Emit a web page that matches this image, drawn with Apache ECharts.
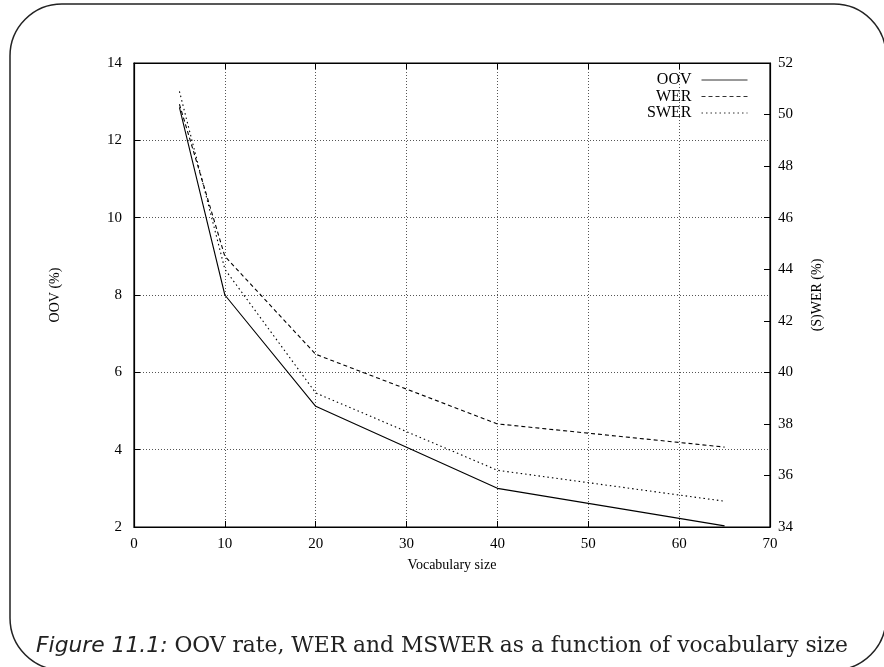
<!DOCTYPE html>
<html>
<head>
<meta charset="utf-8">
<script src="https://cdn.jsdelivr.net/npm/echarts@6/dist/echarts.min.js"></script>
<style>html,body{margin:0;padding:0;background:#fff;}#c{width:884px;height:667px;}</style>
</head>
<body>
<div id="c"></div>
<script>
var vocabSizes = [5, 10, 20, 40, 65];
var oovValues = [12.85, 8.0, 5.12, 3.0, 2.03];
var werValues = [50.4, 44.5, 40.7, 38.0, 37.1];
var swerValues = [50.9, 44.0, 39.2, 36.2, 35.0];
var seriesNames = ['OOV', 'WER', 'SWER'];
var xAxisName = 'Vocabulary size';
var leftAxisName = 'OOV (%)';
var rightAxisName = '(S)WER (%)';
var captionLabel = 'Figure 11.1:';
var captionText = ' OOV rate, WER and MSWER as a function of vocabulary size';

function pairs(xs, ys) { return xs.map(function (x, i) { return [x, ys[i]]; }); }

var serif = 'Liberation Serif';
var chart = echarts.init(document.getElementById('c'), null, { renderer: 'canvas' });
chart.setOption({
  backgroundColor: '#fff',
  animation: false,
  title: {
    text: '{it|' + captionLabel + '}' + captionText,
    left: 'center',
    top: 630,
    textStyle: {
      fontFamily: 'DejaVu Serif', fontSize: 21.8, fontWeight: 'normal', color: '#222',
      rich: { it: { fontFamily: 'DejaVu Sans', fontStyle: 'italic', fontSize: 21.8, color: '#222' } }
    }
  },
  graphic: [{
    type: 'rect', silent: true, z: -1,
    shape: { x: 10, y: 4, width: 876, height: 666, r: 52 },
    style: { fill: 'none', stroke: '#222', lineWidth: 1.5 }
  }],
  legend: {
    data: seriesNames,
    right: 131, top: 67,
    orient: 'vertical',
    align: 'right',
    itemWidth: 46, itemHeight: 12, itemGap: 0.5,
    itemStyle: { opacity: 0 },
    lineStyle: { color: '#333', width: 1 },
    textStyle: { fontFamily: serif, fontSize: 16, lineHeight: 16, color: '#000', padding: [0, 5, 0, 0] }
  },
  grid: { left: 134, right: 114, top: 63, bottom: 140, show: true, borderColor: '#000', borderWidth: 1.2, backgroundColor: 'transparent' },
  xAxis: [{
    type: 'value', min: 0, max: 70, interval: 10,
    name: xAxisName, nameLocation: 'middle', nameGap: 31,
    nameTextStyle: { fontFamily: serif, fontSize: 14, color: '#000' },
    axisLine: { show: true, onZero: false, lineStyle: { color: '#000', width: 1.2 } },
    axisTick: { show: true, inside: true, length: 6, lineStyle: { color: '#000' } },
    axisLabel: { fontFamily: serif, fontSize: 15, color: '#000', margin: 10 },
    splitLine: { show: true, lineStyle: { color: '#555', type: [1, 2], width: 1 } }
  }, {
    type: 'value', min: 0, max: 70, interval: 10, position: 'top',
    axisLine: { show: true, onZero: false, lineStyle: { color: '#000', width: 1.2 } },
    axisTick: { show: true, inside: true, length: 6, lineStyle: { color: '#000' } },
    axisLabel: { show: false },
    splitLine: { show: false }
  }],
  yAxis: [{
    type: 'value', min: 2, max: 14, interval: 2, position: 'left',
    name: leftAxisName, nameLocation: 'middle', nameGap: 72,
    nameTextStyle: { fontFamily: serif, fontSize: 14, color: '#000' },
    axisLine: { show: true, onZero: false, lineStyle: { color: '#000', width: 1.2 } },
    axisTick: { show: true, inside: true, length: 6, lineStyle: { color: '#000' } },
    axisLabel: { fontFamily: serif, fontSize: 15, color: '#000', margin: 12 },
    splitLine: { show: true, lineStyle: { color: '#555', type: [1, 2], width: 1 } }
  }, {
    type: 'value', min: 34, max: 52, interval: 2, position: 'right',
    name: rightAxisName, nameLocation: 'middle', nameGap: 40, nameRotate: 90,
    nameTextStyle: { fontFamily: serif, fontSize: 14, color: '#000' },
    axisLine: { show: true, onZero: false, lineStyle: { color: '#000', width: 1.2 } },
    axisTick: { show: true, inside: true, length: 6, lineStyle: { color: '#000' } },
    axisLabel: { fontFamily: serif, fontSize: 15, color: '#000', margin: 8 },
    splitLine: { show: false }
  }],
  series: [{
    name: seriesNames[0], type: 'line', yAxisIndex: 0, data: pairs(vocabSizes, oovValues),
    symbol: 'none', lineStyle: { color: '#000', width: 1.1, type: 'solid' }, itemStyle: { color: '#000' }
  }, {
    name: seriesNames[1], type: 'line', yAxisIndex: 1, data: pairs(vocabSizes, werValues),
    symbol: 'none', lineStyle: { color: '#000', width: 1.1, type: [4, 3] }, itemStyle: { color: '#000' }
  }, {
    name: seriesNames[2], type: 'line', yAxisIndex: 1, data: pairs(vocabSizes, swerValues),
    symbol: 'none', lineStyle: { color: '#000', width: 1.1, type: [1.5, 3] }, itemStyle: { color: '#000' }
  }]
});
</script>
</body>
</html>
